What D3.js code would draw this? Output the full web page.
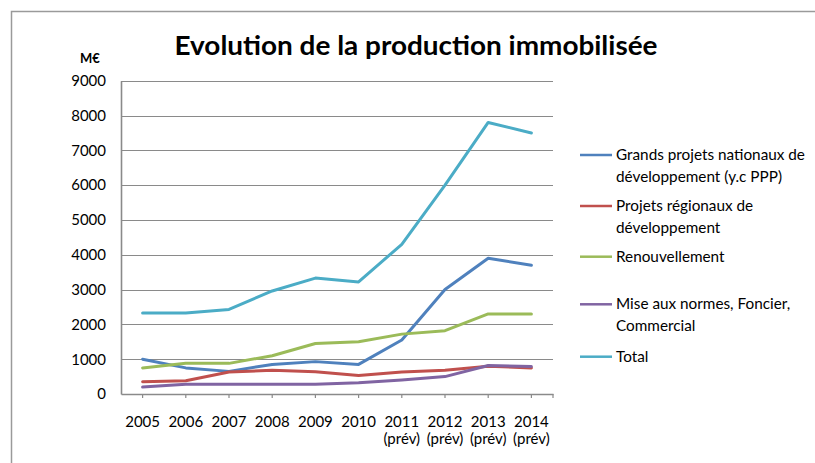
<!DOCTYPE html>
<html><head><meta charset="utf-8">
<script src="https://cdn.jsdelivr.net/npm/d3@7"></script>
<style>body{margin:0;background:#fff}svg{display:block}text{font-family:Lato,"Open Sans",sans-serif}</style>
</head><body>
<svg id="c" width="815" height="463"></svg>
<script>
const years = ["2005","2006","2007","2008","2009","2010","2011","2012","2013","2014"];
const yearSub = ["","","","","","","(prév)","(prév)","(prév)","(prév)"];
const seriesNames = [["Grands projets nationaux de","développement (y.c PPP)"],["Projets régionaux de","développement"],["Renouvellement"],["Mise aux normes, Foncier,","Commercial"],["Total"]];
const colors = ["#4F81BD","#C0504D","#9BBB59","#8064A2","#4BACC6"];
const grands = [1000,750,650,850,930,850,1550,3000,3900,3700];
const regionaux = [350,380,630,680,640,530,630,680,800,750];
const renouvellement = [750,880,880,1100,1450,1500,1720,1820,2300,2300];
const miseNormes = [200,280,280,280,280,320,400,500,820,790];
const total = [2330,2330,2430,2960,3330,3220,4300,6000,7800,7500];
const yTicks = [0,1000,2000,3000,4000,5000,6000,7000,8000,9000];
const seriesValues = [grands, regionaux, renouvellement, miseNormes, total];
const legendY = [155,206,256.7,304.3,356.7];

const svg = d3.select("#c");
svg.append("rect").attr("x",11.5).attr("y",11.5).attr("width",830).attr("height",480)
  .attr("fill","none").attr("stroke","#9a9a9a").attr("stroke-width",1.5);

const x = d3.scaleBand().domain(years).range([121,553]);
const y = d3.scaleLinear().domain([0,9000]).range([394,80.7]);

svg.append("g").selectAll("line").data(yTicks.filter(d=>d>0)).join("line")
  .attr("x1",121).attr("x2",553).attr("y1",d=>Math.round(y(d))+0.5).attr("y2",d=>Math.round(y(d))+0.5)
  .attr("stroke","#8a8a8a").attr("stroke-width",1);

const yAxis = d3.axisLeft(y).tickValues(yTicks).tickSize(0).tickPadding(15).tickFormat(d3.format("d"));
const gy = svg.append("g").attr("transform","translate(121,0)").call(yAxis);
gy.select(".domain").attr("stroke","#8a8a8a").attr("stroke-width",1.6);
gy.selectAll("text").attr("font-size",15).attr("fill","#000");

// x axis: ticks at category centres
const gx = svg.append("g").attr("transform",`translate(0,${Math.round(y(0))})`)
  .call(d3.axisBottom(x).tickSize(4).tickSizeOuter(0).tickFormat(""));
gx.select(".domain").attr("stroke","#8a8a8a").attr("stroke-width",1.6);
gx.selectAll(".tick line").attr("stroke","#8a8a8a").attr("stroke-width",1.2);
svg.append("line").attr("x1",553).attr("x2",553).attr("y1",y(0)).attr("y2",y(0)+4).attr("stroke","#8a8a8a").attr("stroke-width",1.2);

const lbl = svg.append("g");
years.forEach((yr,i)=>{
  const cx = x(yr)+x.bandwidth()/2;
  lbl.append("text").attr("x",cx).attr("y",427).attr("text-anchor","middle").attr("font-size",15).text(yr);
  if(yearSub[i]) lbl.append("text").attr("x",cx).attr("y",444).attr("text-anchor","middle").attr("font-size",15).text(yearSub[i]);
});

const line = d3.line().x((d,i)=>x(years[i])+x.bandwidth()/2).y(d=>y(d));
seriesValues.forEach((vals,k)=>{
  svg.append("path").datum(vals).attr("d",line).attr("fill","none")
    .attr("stroke",colors[k]).attr("stroke-width",3).attr("stroke-linejoin","round").attr("stroke-linecap","round");
});

seriesNames.forEach((names,k)=>{
  const ly = legendY[k];
  svg.append("line").attr("x1",580).attr("x2",612).attr("y1",ly).attr("y2",ly).attr("stroke",colors[k]).attr("stroke-width",2.5);
  names.forEach((t,j)=>{
    svg.append("text").attr("x",616).attr("y",ly+5+j*21.7).attr("font-size",15.3).text(t);
  });
});

svg.append("text").attr("x",416).attr("y",55).attr("text-anchor","middle").attr("font-size",27)
  .attr("font-weight","bold").attr("textLength",483).attr("lengthAdjust","spacingAndGlyphs").text("Evolution de la production immobilisée");
svg.append("text").attr("x",90).attr("y",63).attr("text-anchor","middle").attr("font-size",13).attr("font-weight","bold").text("M€");
</script>
</body></html>
